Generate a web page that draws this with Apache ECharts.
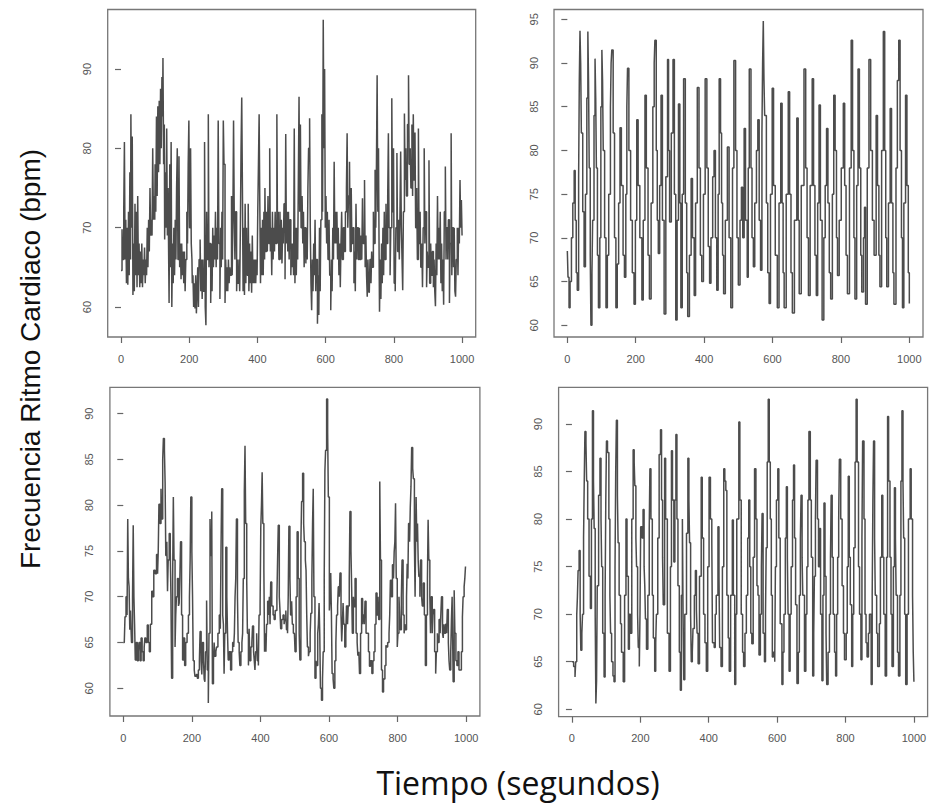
<!DOCTYPE html>
<html>
<head>
<meta charset="utf-8">
<script src="https://cdn.jsdelivr.net/npm/echarts@6/dist/echarts.min.js"></script>
<style>
html,body{margin:0;padding:0;background:#fff;}
#chart{width:932px;height:805px;}
</style>
</head>
<body>
<div id="chart"></div>
<script>
// ---- data: [time (s), heart rate (bpm)] ----
const tlData = [[0,64.6],[3,69.8],[5,66],[8,72],[10,80.8],[12,66],[14,71],[16,63],[18,70],[20,62.8],[22,72],[24,64],[26,77],[28,66],[29,84.3],[31,70],[33,81.5],[35,61.5],[37,68],[39,62],[41,73],[43,64],[45,72],[47,62.5],[49,74],[51,64],[53,68],[55,62.5],[57,67],[59,63],[61,68],[63,62.5],[65,66],[67,64],[69,67.5],[71,63],[73,66],[75,64],[77,70],[79,65],[81,71],[83,67],[85,75],[87,69],[89,71],[91,69],[93,80],[95,71],[97,74],[99,71],[100,78],[102,72],[104,84],[106,74],[108,85.3],[110,77],[112,86],[114,78],[116,87.5],[118,80],[120,89],[122,84],[123,91.4],[125,78],[127,83],[128,68.5],[130,77],[132,70],[134,82.5],[136,69],[138,75],[140,65],[141,60.5],[143,78],[145,65],[147,80.8],[149,60],[151,68],[153,63],[155,70],[157,64],[159,71],[161,66],[163,75],[165,80],[167,66],[170,79],[172,65],[174,68],[176,63.5],[178,68],[180,64],[182,67],[184,63],[186,67],[188,62],[190,66],[193,72],[195,68],[197,78],[199,83.5],[201,70],[204,80],[206,68],[208,66],[209,63],[211,64],[213,60],[215,63],[217,59.8],[219,64],[221,59.2],[223,62],[225,65],[227,60],[229,66],[232,68.5],[234,62],[236,66],[238,61],[240,66],[242,62],[245,80.8],[247,60],[249,57.7],[251,72],[253,66],[256,84.3],[258,65],[260,68],[263,60.5],[265,68],[267,62],[269,70],[271,65],[273,69],[275,66],[277,72],[279,65],[281,70],[283,66],[285,83.5],[287,68],[290,61],[292,70],[294,65],[296,72],[298,66],[300,83.5],[302,78],[305,60.5],[307,66],[309,62],[311,65],[313,62],[315,66],[317,63],[319,65],[321,64],[324,74],[326,64],[328,71],[330,83.5],[332,72],[334,66],[336,72],[339,62],[341,66],[343,63],[346,66],[348,62],[350,70],[352,80],[354,86.4],[356,75],[358,62],[360,70],[362,61.5],[364,73],[366,63],[368,70],[370,64],[373,73],[375,62],[377,68],[379,63],[381,67],[383,61.8],[385,69],[387,63],[389,66],[391,63],[393,66],[395,63],[397,66],[399,64],[401,72],[403,78],[405,84.3],[407,73],[409,63],[411,70],[413,64],[415,71],[417,64],[419,72],[421,66],[422,75],[424,67],[427,72],[429,67],[431,74],[433,68],[436,80],[438,67],[440,70],[442,64],[444,72],[446,66],[448,70],[450,67],[452,72],[454,68],[457,84.3],[459,68],[461,72],[463,66],[466,72],[468,66],[470,71],[472,65.5],[474,70],[476,68],[478,73],[481,63.5],[483,81.8],[485,68],[487,72],[489,67],[491,72],[493,66],[495,71],[498,64],[500,68],[502,65],[504,68],[506,64],[508,82.5],[510,63],[512,70],[514,64],[516,70],[518,66],[520,76],[522,86.5],[524,72],[526,83],[528,70],[531,74],[533,68],[535,72],[537,65],[539,70],[542,65.5],[544,70],[546,66],[548,75],[550,80],[553,83.8],[555,70],[557,63],[559,59.6],[561,66],[563,62],[565,68],[567,64],[569,71],[571,62],[573,66],[576,57.9],[578,64],[580,59],[582,70],[584,62],[586,71],[589,84.3],[591,72],[593,96.2],[595,80],[597,90],[599,70],[601,74],[603,68],[605,72],[607,66],[610,71],[612,64],[615,59.6],[617,66],[619,62],[621,70],[623,66],[625,78.3],[627,68],[629,72],[631,68],[633,72],[635,66],[637,70],[639,64],[641,68],[643,62.5],[645,68],[647,72],[649,66],[652,70],[655,67],[658,72],[661,75],[663,81.9],[665,70],[667,74],[670,78.3],[672,67],[675,75],[677,68],[680,70],[683,63],[685,67],[687,62],[689,73],[691,66],[693,70],[696,66],[699,70],[701,66],[704,69],[706,66],[708,73.7],[710,68],[714,76],[716,65],[718,69],[720,64],[722,61.3],[724,66],[726,62],[728,61.8],[730,66],[733,63],[735,67],[737,65],[740,72],[742,68],[745,77.3],[747,70],[749,78],[751,89.2],[753,72],[755,80],[757,65],[758,59.4],[760,66],[762,61],[764,68],[766,63],[768,70],[770,64],[772,72],[774,66],[777,73],[779,68],[782,74],[784,81.9],[786,70],[789,64],[791,70],[794,86.3],[796,72],[799,80],[801,63],[804,62],[806,70],[809,79.4],[811,67],[814,71],[816,66],[818,72],[820,79.6],[822,70],[824,66],[826,62.1],[828,72],[831,84.4],[833,76],[835,80],[837,74],[840,83],[843,89.2],[845,78],[848,80],[850,75],[853,83],[855,74],[857,84.3],[859,76],[862,82],[864,70],[867,75],[869,66],[872,82.5],[874,68],[877,72],[879,65],[882,68],[884,62.5],[886,70],[889,80],[891,68],[893,72],[896,62.5],[898,67],[900,65],[903,78.5],[905,63],[908,68],[910,64],[913,67],[916,62.5],[918,66],[920,62],[922,60.1],[924,68],[926,64],[928,74],[930,66],[932,70],[934,66],[936,72],[938,63],[940,68],[942,62],[944,66],[946,60.3],[948,72],[951,77.7],[953,66],[955,70],[958,66],[960,71],[963,60.5],[965,68],[968,81.9],[970,64],[972,70],[975,65],[977,70],[979,62],[981,61.3],[983,66],[986,70],[988,64],[990,70],[992,68],[994,76],[996,70],[998,73.5],[1000,69]];

const trData = [[0,68.5],[2,65.5],[5,62],[8,65],[12,70],[16,74],[20,77.7],[23,72],[26,66],[29,64],[33,77],[35,88],[37,93.7],[39,90],[41,82],[45,73],[49,66.7],[53,75],[57,86],[60,93.6],[62,88],[64,78],[67,68],[69,60],[72,66],[74,72],[78,84],[81,90.5],[83,86],[85,78],[88,68],[91,62],[95,70],[98,85],[101,91.5],[103,88],[105,80],[109,70],[113,62],[117,68],[121,75],[126,85],[128,90],[130,91.5],[134,82],[138,70],[142,62],[146,67],[150,74],[154,82.6],[158,76],[163,68],[167,65.5],[171,75],[174,85],[176,89.4],[180,80],[185,72],[190,66],[195,62.4],[199,72],[203,83.5],[207,76],[212,70],[218,62.9],[222,72],[227,86.3],[231,78],[236,68],[240,63],[245,74],[250,85],[254,90],[256,92.6],[260,80],[263,72],[266,68.2],[270,76],[274,86.3],[278,72],[283,61.3],[288,77],[293,90.4],[296,80],[299,71.8],[304,82],[309,90.4],[313,75],[317,60.6],[321,72],[325,85.3],[329,74],[332,62],[336,75],[340,88.2],[345,74],[349,66],[352,61],[357,68],[362,76.8],[366,70],[371,63.4],[375,74],[380,87.2],[385,78],[389,68],[393,65],[398,75],[403,88.2],[408,78],[412,69],[416,64.8],[420,70],[425,77],[429,80],[433,70],[437,64],[441,75],[444,88.2],[448,82],[451,74],[454,68],[457,63.6],[462,72],[468,80.4],[473,70],[478,62],[483,78],[487,90.3],[492,80],[496,70],[500,64.6],[505,72],[509,75.8],[513,70],[517,82.5],[521,72],[526,65.5],[529,78],[532,89.3],[537,78],[540,70],[544,66.7],[548,74],[553,80],[557,83.5],[561,72],[565,66.3],[569,82],[571,90],[573,94.8],[575,88],[577,84],[582,74],[586,66],[590,62.5],[594,75],[599,87.1],[603,76],[608,68],[614,62],[619,74],[624,85.4],[628,74],[631,66],[634,62],[640,75],[646,86.7],[650,75],[654,66],[658,61.4],[664,72],[671,83.7],[675,72],[678,63.6],[684,76],[692,89.3],[697,78],[701,70],[705,63.4],[710,76],[716,88.2],[720,76],[724,68],[728,63.4],[732,74],[736,85.2],[740,72],[745,60.6],[750,70],[754,76],[758,82.5],[762,74],[766,66],[770,63],[775,75],[779,86.3],[783,80],[787,70],[790,65.7],[795,72],[801,78],[807,85.4],[811,76],[815,68],[819,63.6],[825,78],[830,92.6],[834,80],[838,70],[841,63],[846,76],[850,89.3],[854,78],[858,68],[861,63.8],[866,70],[869,73.5],[872,62.4],[877,78],[882,90.4],[887,80],[892,72],[897,68],[903,84],[907,76],[911,68],[914,64.4],[919,80],[924,93.6],[928,80],[931,70],[934,64.4],[939,74],[944,84.8],[948,74],[952,66],[955,62.4],[961,78],[965,88],[969,92.6],[973,80],[977,70],[980,62],[984,74],[989,86.3],[993,76],[997,66],[1000,62.5]];

const blData = [[0,65],[3,65.1],[5,67.8],[8,70],[11,68],[13,78.5],[15,72],[17,71.1],[19,66.4],[21,68.5],[23,66],[24,65],[27,70],[29,77.8],[31,70],[33,67],[35,63.1],[38,65],[41,63],[44,64],[46,65],[49,63],[52,65.5],[55,64],[58,63],[61,64.5],[63,65.5],[66,65],[70,66.9],[73,65],[76,64],[79,67],[83,70.6],[86,70],[89,72.9],[93,72.5],[97,74.6],[100,72.5],[102,75],[104,80.1],[107,78],[110,81.8],[112,78.5],[115,85],[117,87.3],[120,86],[122,82.5],[124,74.5],[127,76],[129,70.6],[131,74],[134,76.9],[137,75],[139,70],[141,61.1],[144,72],[146,80.9],[148,74],[151,64.5],[153,68],[155,70],[158,72],[161,69],[163,69.3],[165,72],[167,76],[170,68],[173,63.1],[176,65.5],[179,62.5],[182,65],[186,66],[190,68],[193,70],[195,74],[197,80.9],[200,75],[202,70],[204,63],[207,62],[209,61.3],[213,61.5],[216,61.1],[219,62],[222,63],[224,66.2],[227,63],[229,61.5],[231,65],[234,63],[236,61],[238,60.7],[240,64],[243,69.6],[245,62],[248,58.4],[250,66],[253,78.5],[255,74.5],[258,79.3],[260,60.5],[263,63],[265,65],[267,63.5],[270,64],[272,64.5],[276,66],[280,68],[283,66.5],[285,75],[287,81.8],[290,68],[292,67],[294,61.6],[296,66],[299,75.4],[302,70],[304,66],[306,63.1],[309,64],[313,62],[316,64],[319,65],[322,64.5],[324,66],[326,70],[328,72],[330,78.5],[333,70],[335,65],[338,64],[340,62.5],[343,64],[346,65],[348,66],[350,72],[353,81.5],[355,86.5],[357,78],[360,71.8],[362,66],[365,62.5],[367,66.5],[369,63],[372,64.5],[375,65],[377,66.8],[380,64],[382,63],[384,62],[386,64],[389,66],[391,63],[394,62.5],[396,68],[399,69],[401,77.5],[403,80],[405,83.6],[407,78],[410,73],[412,64],[414,66],[416,64],[418,67],[421,69.5],[424,68],[426,70],[428,67],[430,71.6],[433,69],[437,68],[440,67.5],[443,68.5],[445,68.5],[448,70],[450,74],[452,77.8],[455,70],[457,68.5],[459,66.5],[462,67.5],[466,68],[469,67],[471,67.5],[474,68.5],[476,66.4],[479,66],[481,70],[483,77.7],[486,72],[488,68],[491,69.5],[493,67],[496,66],[499,66],[501,64],[504,70],[507,77.1],[510,72],[513,66],[515,63.1],[518,76],[520,80.4],[523,83.5],[526,78],[528,76],[531,74],[533,72.9],[535,68],[537,64.5],[540,63.5],[542,64],[545,66],[547,68.2],[550,72],[552,78],[554,81.8],[556,70],[559,61.1],[562,63],[564,62.5],[567,66],[569,67],[571,69.3],[573,66],[575,60],[578,58.7],[581,61],[583,64],[586,72],[588,83.8],[590,86],[593,91.6],[596,88],[598,80.9],[601,68.5],[603,70],[605,72.6],[607,68],[609,61.6],[612,61],[614,60],[617,63],[620,65],[622,68],[625,69],[627,71.1],[630,70],[632,72.6],[635,68],[637,65.1],[639,67],[641,69.3],[643,67],[646,64.5],[649,66],[651,69],[654,67],[656,69],[659,72],[661,79.3],[664,75],[666,71],[668,66],[671,70],[673,68.9],[676,72],[679,66],[682,65],[684,63.6],[687,64],[689,61.6],[692,66],[695,69.8],[698,67],[700,68],[703,67],[705,69.5],[708,66],[712,66],[715,64],[718,62.4],[721,63],[725,61.6],[728,63],[731,64],[734,67],[737,70.4],[740,68],[743,70],[745,67.5],[748,82.6],[750,74],[753,62],[756,59.6],[759,61],[763,62.5],[766,64.7],[768,64.5],[771,65],[775,66],[777,68],[779,71.8],[782,70],[785,73.5],[788,72],[790,74.9],[792,76],[794,80.2],[796,72],[799,64.5],[801,66],[804,70],[806,68],[808,66.4],[811,70],[813,74],[816,68],[819,66],[821,67],[823,66.4],[826,70],[828,73.6],[830,72],[832,78],[835,76],[837,79.8],[839,82],[841,86.3],[844,84],[846,82.9],[849,76],[851,70],[852,74],[854,80.9],[856,76],[858,78],[860,74],[862,72.2],[865,70],[867,74],[870,70],[872,69],[875,71.5],[878,68],[881,62.5],[884,68],[887,72],[889,78.4],[891,74],[894,70],[896,66],[898,70],[901,66],[903,68],[905,68.6],[908,64],[911,61.6],[913,64],[916,66],[918,65],[921,67.5],[924,66],[926,68],[928,70],[931,66],[933,65.5],[935,67],[937,66],[940,67],[943,66],[945,68.6],[948,65],[950,63],[952,62],[955,64],[957,67.5],[959,70],[961,64],[962,60.7],[965,70.7],[967,66],[970,63],[973,62.5],[976,64],[979,62],[983,62],[986,64],[989,67.8],[991,70],[994,71.1],[996,72],[998,73.3],[1000,73.3]];

const brData = [[0,65],[2,65],[5,64.5],[9,63.4],[11,65],[14,69.9],[16,71.8],[18,74.6],[21,76.7],[24,70],[26,66.2],[29,68],[31,70],[34,78],[36,84],[38,89.2],[41,88],[43,84],[46,80],[50,74],[54,70.6],[57,80],[60,91.4],[63,84],[65,79],[68,70],[70,60.6],[72,63],[74,73],[78,82.5],[82,86.4],[85,80],[87,75],[90,68],[94,63.4],[97,72],[99,82],[101,88.2],[104,87],[108,80],[111,72],[113,68],[116,65],[120,63.5],[123,62.9],[126,75],[128,85],[130,90.4],[133,82.5],[135,77.5],[138,72],[142,69],[145,66],[150,62.9],[154,72],[158,80],[161,74],[165,66.3],[168,70],[171,68],[175,80],[179,87.3],[182,86],[184,83.5],[187,78],[189,75],[192,70],[194,66.5],[197,64.5],[199,70],[201,79.2],[205,78],[208,81],[211,75],[213,73],[215,69.5],[218,66.3],[222,72],[226,79],[228,85.3],[231,80],[235,72],[238,67.5],[242,64],[245,67],[247,70],[251,78],[255,86.8],[259,89.4],[262,82],[265,76],[267,71],[271,86.4],[274,80],[279,68],[284,64],[288,75],[291,87.2],[294,82],[298,75.5],[301,82],[304,88.9],[307,80],[310,73],[314,66],[317,62],[320,72],[323,80],[325,70],[327,63.1],[330,70],[335,78.5],[339,86.4],[342,82],[344,77.5],[347,70],[349,65],[352,66],[354,68.5],[358,72],[361,74.6],[364,70.5],[366,68],[369,64.8],[373,74],[378,84.4],[381,78],[385,70],[389,67],[393,64],[397,75],[401,84.4],[405,80],[409,77.5],[411,67],[416,66.5],[419,70],[422,72],[427,79.2],[430,74],[432,66.5],[436,64.5],[440,75],[444,85.3],[447,84],[450,83],[453,72],[457,67.5],[460,64],[464,72],[469,79.9],[472,72],[476,62.6],[479,70],[482,80],[488,90.2],[491,82],[495,70],[499,66],[502,64.5],[506,68],[510,72],[514,78],[517,82],[520,75],[523,68],[526,66.9],[530,76],[534,85.3],[538,80],[541,73],[544,72],[547,65.7],[551,70],[554,75],[556,80.6],[559,68],[563,65],[566,70],[568,77],[571,86],[574,92.6],[577,86],[580,80],[583,72],[586,65.5],[589,66],[593,65],[595,75],[598,82],[602,85.3],[605,78],[609,69],[614,62.6],[617,66],[620,70],[624,78],[627,83.4],[630,76],[632,70],[635,64],[638,70],[641,75],[645,82],[648,85.7],[651,78],[654,71],[658,62.7],[662,66],[665,72],[668,78],[670,82.5],[673,76],[675,72],[680,64],[684,70],[687,75],[690,82],[693,89.2],[697,82],[700,76],[704,63.5],[707,68],[709,74],[712,80],[714,86.2],[718,80],[721,75],[724,79],[727,70],[731,63],[734,72],[737,81.7],[740,74],[743,68],[745,62.6],[749,66],[753,70],[756,76],[758,82.5],[761,76],[764,70],[768,66],[771,63.5],[774,70],[777,76],[780,80],[782,86.3],[786,80],[790,73],[794,68],[797,65.2],[802,68],[805,75],[808,84.5],[811,76],[814,71],[818,64.5],[821,70],[824,77],[828,86],[831,92.6],[834,86],[838,75],[841,70],[845,65.2],[848,78],[850,88.2],[854,80],[857,70],[860,67],[863,65.5],[867,68],[870,70],[875,62.6],[878,72],[880,82],[882,88.2],[885,78],[887,72],[891,68],[894,64.5],[899,69],[902,76],[906,82.5],[909,76],[912,70],[916,63.5],[920,76],[923,90.8],[926,84],[930,76],[933,70],[936,64.5],[940,75],[943,83.3],[946,78],[948,72],[952,66],[955,63.5],[959,72],[962,84],[965,91.4],[968,84],[970,78],[973,70],[976,62.6],[980,70],[984,80],[989,85.3],[992,80],[996,72],[998,66],[1000,62.9]];

// ---- tick labels ----
const xTicks = [0, 200, 400, 600, 800, 1000];
const yTicksTL = [60, 70, 80, 90];
const yTicksTR = [60, 65, 70, 75, 80, 85, 90, 95];
const yTicksBL = [60, 65, 70, 75, 80, 85, 90];
const yTicksBR = [60, 65, 70, 75, 80, 85, 90];

const yTitle = 'Frecuencia Ritmo Cardiaco (bpm)';
const xTitle = 'Tiempo (segundos)';

// ---- layout (pixels) ----
const panels = [
  {data: tlData, yTicks: yTicksTL, ymin: 56.22, ymax: 97.5,  grid: {left: 107.7, top: 9.5,   width: 368, height: 327.5}},
  {data: trData, yTicks: yTicksTR, ymin: 58.66, ymax: 96.12, grid: {left: 554,   top: 9.5,   width: 369, height: 327.5}},
  {data: blData, yTicks: yTicksBL, ymin: 56.97, ymax: 92.88, grid: {left: 109.9, top: 387.3, width: 370, height: 328.7}},
  {data: brData, yTicks: yTicksBR, ymin: 59.22, ymax: 93.86, grid: {left: 558.6, top: 387.3, width: 369, height: 329.4}}
];

const axisGray = '#666';
const labelStyle = {fontFamily: 'Liberation Sans, Arial, sans-serif', fontSize: 11, color: '#555'};
const plain = v => String(v);

const option = {
  backgroundColor: '#fff',
  animation: false,
  grid: panels.map(p => Object.assign({show: true, borderColor: '#777', borderWidth: 1.3, backgroundColor: 'transparent', containLabel: false}, p.grid)),
  xAxis: panels.map((p, i) => ({
    type: 'value', gridIndex: i, min: -39, max: 1040,
    axisLine: {show: false},
    splitLine: {show: false},
    axisTick: {show: true, inside: false, length: 6, customValues: xTicks, lineStyle: {color: axisGray, width: 1.2}},
    axisLabel: Object.assign({show: true, margin: 16, customValues: xTicks, formatter: plain, showMinLabel: true, showMaxLabel: true}, labelStyle)
  })),
  yAxis: panels.map((p, i) => ({
    type: 'value', gridIndex: i, min: p.ymin, max: p.ymax,
    axisLine: {show: false},
    splitLine: {show: false},
    axisTick: {show: true, inside: false, length: 6, customValues: p.yTicks, lineStyle: {color: axisGray, width: 1.2}},
    axisLabel: Object.assign({show: true, margin: 15, rotate: 90, customValues: p.yTicks, formatter: plain, showMinLabel: true, showMaxLabel: true}, labelStyle)
  })),
  series: panels.map((p, i) => ({
    type: 'line', xAxisIndex: i, yAxisIndex: i,
    data: p.data, showSymbol: false, symbol: 'none', step: 'end',
    lineStyle: {color: '#4c4c4c', width: 1.5},
    silent: true
  })),
  graphic: [
    {type: 'text', x: 30, y: 359, rotation: Math.PI / 2,
     style: {text: yTitle, fill: '#111', font: '28px "Liberation Sans", Arial, sans-serif',
             textAlign: 'center', textVerticalAlign: 'middle', align: 'center', verticalAlign: 'middle'}},
    {type: 'text', x: 518, y: 782,
     style: {text: xTitle, fill: '#111', font: '32px "Open Sans", sans-serif',
             textAlign: 'center', textVerticalAlign: 'middle', align: 'center', verticalAlign: 'middle'}}
  ]
};

const chart = echarts.init(document.getElementById('chart'), null, {renderer: 'svg', width: 932, height: 805});
chart.setOption(option);
</script>
</body>
</html>
